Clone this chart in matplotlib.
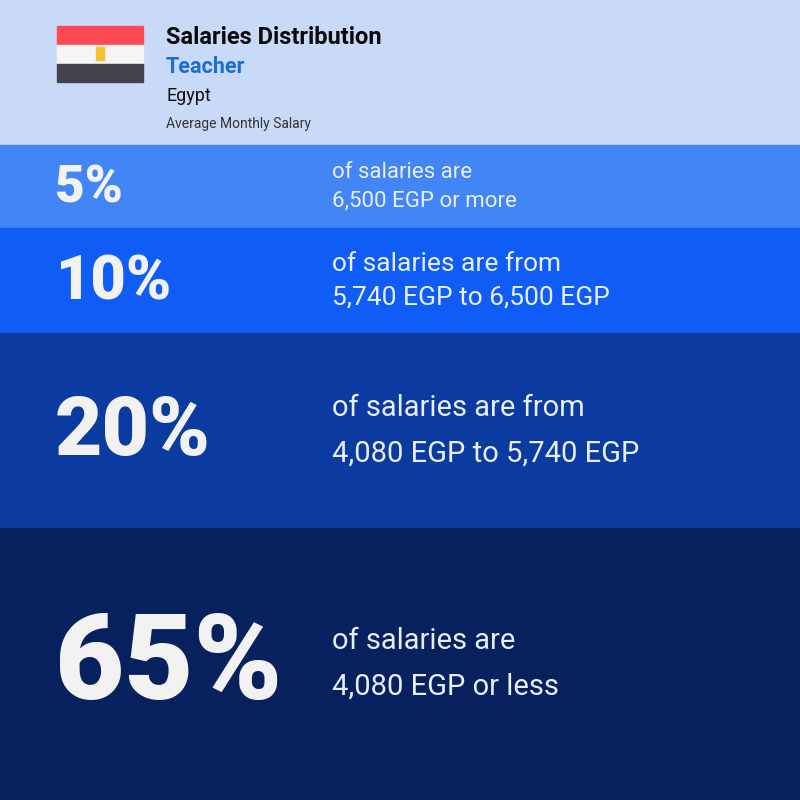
import matplotlib.pyplot as plt
from matplotlib.patches import Rectangle

plt.rcParams['font.family'] = ['Roboto', 'DejaVu Sans']

# DATA
shares = ['5%', '10%', '20%', '65%']
line1 = ['of salaries are', 'of salaries are from', 'of salaries are from', 'of salaries are']
line2 = ['6,500 EGP or more', '5,740 EGP to 6,500 EGP', '4,080 EGP to 5,740 EGP', '4,080 EGP or less']

# STYLE
band_heights = [83, 105, 195, 272]
band_colours = ['#4285f4', '#0f5cf6', '#0b3ba0', '#07215e']
num_sizes = [37, 44, 59, 86]
text_sizes = [16, 19, 21, 21]
line_gaps = [14, 16.5, 23, 23]

fig = plt.figure(figsize=(8, 8), dpi=100)
ax = fig.add_axes([0, 0, 1, 1])
ax.set_xlim(0, 800)
ax.set_ylim(800, 0)
ax.axis('off')

# HEADER
ax.add_patch(Rectangle((0, 0), 800, 145, color='#c9daf8'))
ax.add_patch(Rectangle((57, 26), 86, 19, color='#fe4a54'))
ax.add_patch(Rectangle((57, 45), 86, 19, color='#f5f5f5'))
ax.add_patch(Rectangle((57, 64), 86, 18, color='#42424e'))
ax.add_patch(Rectangle((96, 47), 8, 13, color='#f2c230'))
ax.text(166, 37, 'Salaries Distribution', fontsize=17, fontweight='bold', color='#0a0a0a', va='center')
ax.text(166, 67, 'Teacher', fontsize=15.5, fontweight='bold', color='#1a6fd6', va='center')
ax.text(166, 96, 'Egypt', fontsize=13, color='#111111', va='center')
ax.text(166, 124, 'Average Monthly Salary', fontsize=10, color='#333333', va='center')

# BANDS
top = 145
for i in range(len(shares)):
    h = band_heights[i]
    ax.add_patch(Rectangle((0, top), 800, h, color=band_colours[i]))
    mid = top + h / 2
    ax.text(55, mid + 2, shares[i], fontsize=num_sizes[i], fontweight='heavy', color='#f2f2f2', va='center')
    ax.text(332, mid - line_gaps[i], line1[i], fontsize=text_sizes[i], color='#e8eefc', va='center')
    ax.text(332, mid + line_gaps[i], line2[i], fontsize=text_sizes[i], color='#e8eefc', va='center')
    top += h

fig.savefig('out.png', dpi=100)
